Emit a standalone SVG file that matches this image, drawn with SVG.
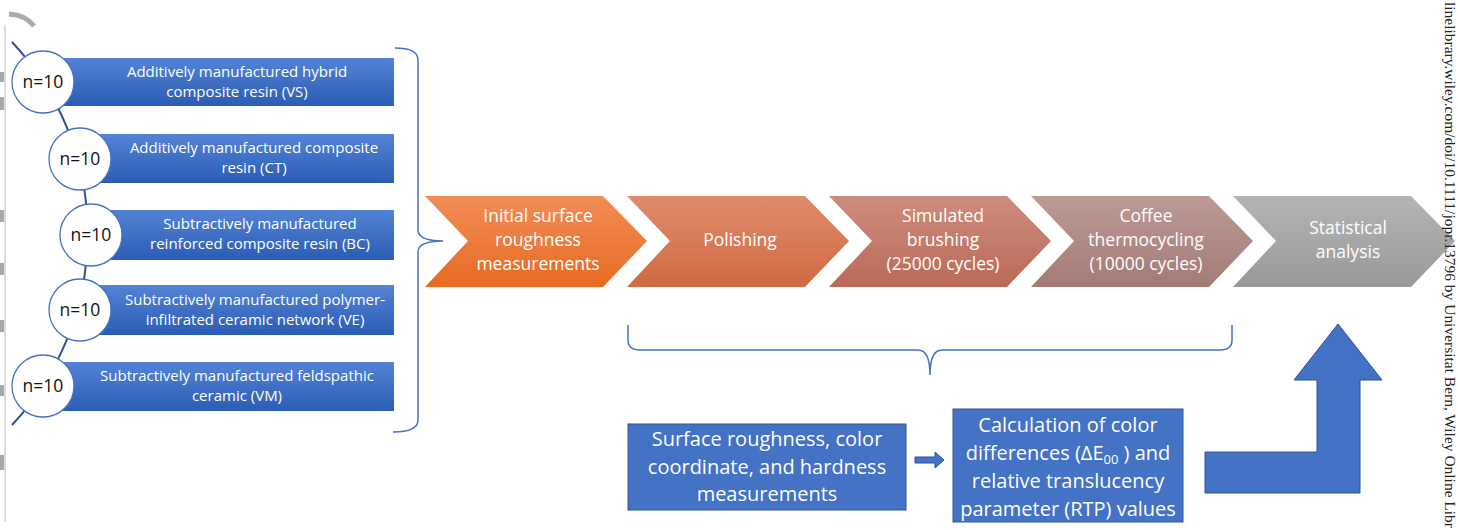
<svg xmlns="http://www.w3.org/2000/svg" width="1458" height="530" viewBox="0 0 1458 530">
<defs>
<linearGradient id="gBar" x1="0" y1="0" x2="0" y2="1"><stop offset="0" stop-color="#5283d4"/><stop offset="1" stop-color="#2c5db6"/></linearGradient>
<linearGradient id="gC1" x1="0" y1="0" x2="0" y2="1"><stop offset="0" stop-color="#f18d57"/><stop offset="1" stop-color="#e86a22"/></linearGradient>
<linearGradient id="gC2" x1="0" y1="0" x2="0" y2="1"><stop offset="0" stop-color="#df8b6d"/><stop offset="1" stop-color="#cf6a42"/></linearGradient>
<linearGradient id="gC3" x1="0" y1="0" x2="0" y2="1"><stop offset="0" stop-color="#cd8c7c"/><stop offset="1" stop-color="#bb6a58"/></linearGradient>
<linearGradient id="gC4" x1="0" y1="0" x2="0" y2="1"><stop offset="0" stop-color="#bc9a96"/><stop offset="1" stop-color="#a47a75"/></linearGradient>
<linearGradient id="gC5" x1="0" y1="0" x2="0" y2="1"><stop offset="0" stop-color="#b4b4b4"/><stop offset="1" stop-color="#999999"/></linearGradient>
</defs>
<style>
.bar{fill:url(#gBar);}
.circ{fill:#ffffff;stroke:#4472c4;stroke-width:1.3;}
.n{font-family:"Open Sans","Liberation Sans",sans-serif;font-size:17.5px;fill:#111;text-anchor:middle;}
.bt{font-family:"Open Sans","Liberation Sans",sans-serif;font-size:15px;fill:#fff;text-anchor:middle;}
.ct{font-family:"Open Sans","Liberation Sans",sans-serif;font-size:17.5px;fill:#fff;text-anchor:middle;}
.box{fill:#4472c4;stroke:#2f5597;stroke-width:1;}
.xt{font-family:"Open Sans","Liberation Sans",sans-serif;font-size:20px;fill:#fff;text-anchor:middle;}
.brace{fill:none;stroke:#4472c4;stroke-width:1.5;}
.art{fill:#a8a8a8;}
</style>
<g id="edge-artifacts">
<path d="M9,14 Q26,15 34,26" fill="none" stroke="#aaaaaa" stroke-width="5"/>
<line x1="5" y1="25" x2="5" y2="522" stroke="#d0d0d0" stroke-width="1.5"/>
<rect class="art" x="0" y="72" width="4" height="10"/>
<rect class="art" x="0" y="97" width="4" height="13"/>
<rect class="art" x="0" y="210" width="4" height="12"/>
<rect class="art" x="0" y="263" width="4" height="12"/>
<rect class="art" x="0" y="320" width="4" height="12"/>
<rect class="art" x="0" y="385" width="4" height="11"/>
<rect class="art" x="0" y="455" width="4" height="15"/>
</g>
<g id="connectors">
<path d="M12,42 A280,280 0 0 1 12,425" fill="none" stroke="#2f528f" stroke-width="2"/>
<path class="brace" d="M395,48 Q418,48 418,60 L418,230 Q418,241 443,241 Q418,241 418,252 L418,420 Q418,432 393,432"/>
<path class="brace" d="M628,325 L628,340 Q628,350 640,350 L918,350 Q930,350 930,375 Q930,350 942,350 L1220,350 Q1232,350 1232,340 L1232,325"/>
<path d="M915,457 L935,457 L935,452 L944,460 L935,468 L935,463 L915,463 Z" fill="#4472c4" stroke="#2f528f" stroke-width="1"/>
<path d="M1205,452 L1317,452 L1317,380 L1294,380 L1338,324 L1382,380 L1360,380 L1360,493 L1205,493 Z" fill="#4472c4" stroke="#2f528f" stroke-width="1"/>
</g>
<g id="group-vs">
<rect class="bar" x="52" y="58" width="342" height="48"/>
<circle class="circ" cx="43" cy="82" r="31"/>
<text class="n" x="43" y="88">n=10</text>
<text class="bt" x="237" y="77">Additively manufactured hybrid</text>
<text class="bt" x="237" y="97">composite resin (VS)</text>
</g>
<g id="group-ct">
<rect class="bar" x="98" y="134" width="296" height="49"/>
<circle class="circ" cx="80" cy="159" r="31"/>
<text class="n" x="80" y="165">n=10</text>
<text class="bt" x="254" y="153">Additively manufactured composite</text>
<text class="bt" x="254" y="173">resin (CT)</text>
</g>
<g id="group-bc">
<rect class="bar" x="110" y="210" width="284" height="50"/>
<circle class="circ" cx="91" cy="235" r="31"/>
<text class="n" x="91" y="241">n=10</text>
<text class="bt" x="260" y="229">Subtractively manufactured</text>
<text class="bt" x="260" y="249">reinforced composite resin (BC)</text>
</g>
<g id="group-ve">
<rect class="bar" x="98" y="285" width="296" height="50"/>
<circle class="circ" cx="80" cy="310" r="31"/>
<text class="n" x="80" y="316">n=10</text>
<text class="bt" x="255" y="305">Subtractively manufactured polymer-</text>
<text class="bt" x="255" y="325">infiltrated ceramic network (VE)</text>
</g>
<g id="group-vm">
<rect class="bar" x="50" y="362" width="344" height="49"/>
<circle class="circ" cx="43" cy="386" r="31"/>
<text class="n" x="43" y="392">n=10</text>
<text class="bt" x="237" y="381">Subtractively manufactured feldspathic</text>
<text class="bt" x="237" y="401">ceramic (VM)</text>
</g>
<g id="step-initial">
<path d="M425,196 L603,196 L647,241 L603,287 L425,287 L468,241 Z" fill="url(#gC1)"/>
<text class="ct" x="538" y="222">Initial surface</text>
<text class="ct" x="538" y="246">roughness</text>
<text class="ct" x="538" y="270">measurements</text>
</g>
<g id="step-polishing">
<path d="M627,196 L805,196 L849,241 L805,287 L627,287 L670,241 Z" fill="url(#gC2)"/>
<text class="ct" x="740" y="246">Polishing</text>
</g>
<g id="step-brushing">
<path d="M829,196 L1007,196 L1051,241 L1007,287 L829,287 L872,241 Z" fill="url(#gC3)"/>
<text class="ct" x="943" y="222">Simulated</text>
<text class="ct" x="943" y="246">brushing</text>
<text class="ct" x="943" y="270">(25000 cycles)</text>
</g>
<g id="step-coffee">
<path d="M1031,196 L1209,196 L1253,241 L1209,287 L1031,287 L1074,241 Z" fill="url(#gC4)"/>
<text class="ct" x="1146" y="222">Coffee</text>
<text class="ct" x="1146" y="246">thermocycling</text>
<text class="ct" x="1146" y="270">(10000 cycles)</text>
</g>
<g id="step-statistical">
<path d="M1233,196 L1411,196 L1455,241 L1411,287 L1233,287 L1276,241 Z" fill="url(#gC5)"/>
<text class="ct" x="1348" y="234">Statistical</text>
<text class="ct" x="1348" y="258">analysis</text>
</g>
<g id="box-measurements">
<rect class="box" x="628" y="424" width="278" height="86"/>
<text class="xt" x="767" y="446">Surface roughness, color</text>
<text class="xt" x="767" y="474">coordinate, and hardness</text>
<text class="xt" x="767" y="501">measurements</text>
</g>
<g id="box-calculation">
<rect class="box" x="953" y="409" width="230" height="113"/>
<text class="xt" x="1068" y="432">Calculation of color</text>
<text class="xt" x="1068" y="460">differences (ΔE<tspan font-size="13" dy="4">00</tspan><tspan dy="-4"> ) and</tspan></text>
<text class="xt" x="1068" y="488">relative translucency</text>
<text class="xt" x="1068" y="516">parameter (RTP) values</text>
</g>
<g id="watermark">
<text transform="translate(1445,2) rotate(90)" x="0" y="0" font-family="Liberation Serif,serif" font-size="14.5" fill="#222" textLength="526" lengthAdjust="spacingAndGlyphs">linelibrary.wiley.com/doi/10.1111/jopr.13796 by Universitat Bern, Wiley Online Libr</text>
</g>
</svg>
